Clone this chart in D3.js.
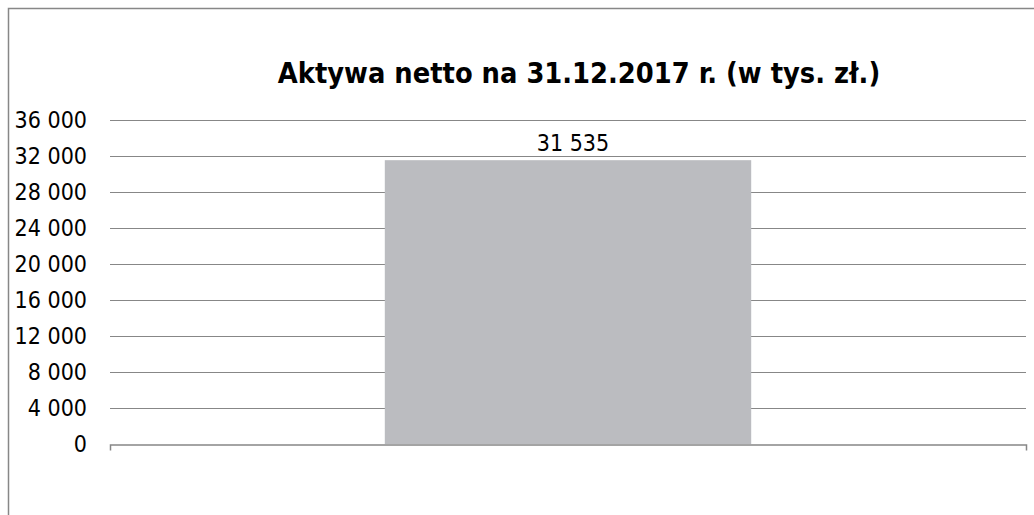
<!DOCTYPE html>
<html>
<head>
<meta charset="utf-8">
<script src="https://cdn.jsdelivr.net/npm/d3@7"></script>
<style>
  body { margin: 0; background: #fff; }
  svg { display: block; }
</style>
</head>
<body>
<div id="chart"></div>
<script>
const categories = ["31.12.2017"];
const values = [31535];
const yTicks = [0, 4000, 8000, 12000, 16000, 20000, 24000, 28000, 32000, 36000];
const titleText = "Aktywa netto na 31.12.2017 r. (w tys. zł.)";

const width = 1034, height = 515;
const fontFam = "'DejaVu Sans Condensed', 'DejaVu Sans', sans-serif";
const gridColor = "#878787";

// number format with space as thousands separator
const fmt = d => d3.format(",")(d).replace(/,/g, " ");

const svg = d3.select("#chart")
  .append("svg")
  .attr("width", width)
  .attr("height", height);

// chart frame (runs past the right/bottom edge of the picture)
svg.append("rect")
  .attr("x", 8.5)
  .attr("y", 8.5)
  .attr("width", 1200)
  .attr("height", 700)
  .attr("fill", "#fff")
  .attr("stroke", gridColor)
  .attr("stroke-width", 1.5);

// scales
const x = d3.scaleBand()
  .domain(categories)
  .range([110, 1026])
  .paddingInner(0.6)
  .paddingOuter(0.3);

const y = d3.scaleLinear()
  .domain([0, 36000])
  .range([444, 120]);

// gridlines
svg.append("g")
  .selectAll("line")
  .data(yTicks.filter(d => d > 0))
  .join("line")
  .attr("x1", 110)
  .attr("x2", 1026)
  .attr("y1", d => Math.round(y(d)) + 0.5)
  .attr("y2", d => Math.round(y(d)) + 0.5)
  .attr("stroke", gridColor)
  .attr("stroke-width", 1.2);

// y tick labels
svg.append("g")
  .selectAll("text")
  .data(yTicks)
  .join("text")
  .attr("x", 87)
  .attr("y", d => y(d) + 8)
  .attr("text-anchor", "end")
  .attr("font-family", fontFam)
  .attr("font-size", "23px")
  .attr("fill", "#000")
  .text(fmt);

// bars
svg.append("g")
  .selectAll("rect")
  .data(values)
  .join("rect")
  .attr("x", (d, i) => x(categories[i]))
  .attr("y", d => y(d))
  .attr("width", x.bandwidth())
  .attr("height", d => y(0) - y(d))
  .attr("fill", "#bbbcc0");

// value labels
svg.append("g")
  .selectAll("text")
  .data(values)
  .join("text")
  .attr("x", (d, i) => x(categories[i]) + x.bandwidth() / 2 + 5)
  .attr("y", d => y(d) - 9)
  .attr("text-anchor", "middle")
  .attr("font-family", fontFam)
  .attr("font-size", "23px")
  .attr("fill", "#000")
  .text(fmt);

// x axis (no labels, outer ticks only at both ends)
const xAxis = svg.append("g")
  .attr("transform", `translate(0, ${Math.round(y(0)) + 0.5})`)
  .call(d3.axisBottom(x).tickSize(0).tickSizeOuter(6).tickFormat(""));
xAxis.select(".domain").attr("stroke", gridColor).attr("stroke-width", 1.5);
xAxis.selectAll(".tick").remove();

// title
svg.append("text")
  .attr("x", 579)
  .attr("y", 83)
  .attr("text-anchor", "middle")
  .attr("font-family", fontFam)
  .attr("font-weight", "bold")
  .attr("font-size", "28.7px")
  .attr("fill", "#000")
  .text(titleText);
</script>
</body>
</html>
